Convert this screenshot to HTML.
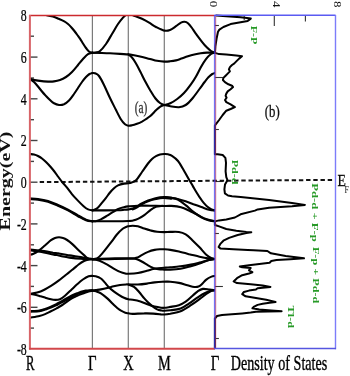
<!DOCTYPE html>
<html><head><meta charset="utf-8"><style>
html,body{margin:0;padding:0;background:#fff;}
svg{display:block;will-change:transform;}
text{font-family:"Liberation Serif",serif;}
</style></head><body>
<svg width="350" height="376" viewBox="0 0 350 376">
<defs><clipPath id="cp"><rect x="30" y="15" width="185" height="334"/></clipPath></defs>
<rect width="350" height="376" fill="#fff"/>
<!-- vertical symmetry lines -->
<g stroke="#7a7a7a" stroke-width="1.2">
<line x1="92.4" y1="15" x2="92.4" y2="349"/>
<line x1="128.3" y1="15" x2="128.3" y2="349"/>
<line x1="164.3" y1="15" x2="164.3" y2="349"/>
</g>
<!-- left ticks -->
<g stroke="#444" stroke-width="1.4">
<line x1="30" y1="328.1" x2="34.0" y2="328.1"/>
<line x1="30" y1="307.3" x2="37.5" y2="307.3"/>
<line x1="30" y1="286.4" x2="34.0" y2="286.4"/>
<line x1="30" y1="265.6" x2="37.5" y2="265.6"/>
<line x1="30" y1="244.8" x2="34.0" y2="244.8"/>
<line x1="30" y1="223.9" x2="37.5" y2="223.9"/>
<line x1="30" y1="203.1" x2="34.0" y2="203.1"/>
<line x1="30" y1="182.2" x2="37.5" y2="182.2"/>
<line x1="30" y1="161.4" x2="34.0" y2="161.4"/>
<line x1="30" y1="140.5" x2="37.5" y2="140.5"/>
<line x1="30" y1="119.7" x2="34.0" y2="119.7"/>
<line x1="30" y1="98.8" x2="37.5" y2="98.8"/>
<line x1="30" y1="78.0" x2="34.0" y2="78.0"/>
<line x1="30" y1="57.1" x2="37.5" y2="57.1"/>
<line x1="30" y1="36.2" x2="34.0" y2="36.2"/>
</g>
<!-- DOS ticks -->
<g stroke="#333" stroke-width="1.1">
<line x1="214.9" y1="25.5" x2="218.9" y2="25.5"/>
<line x1="214.9" y1="77.5" x2="222.9" y2="77.5"/>
<line x1="214.9" y1="129.5" x2="218.9" y2="129.5"/>
<line x1="214.9" y1="181.5" x2="222.9" y2="181.5"/>
<line x1="214.9" y1="233.5" x2="218.9" y2="233.5"/>
<line x1="214.9" y1="286.5" x2="222.9" y2="286.5"/>
<line x1="214.9" y1="338.5" x2="218.9" y2="338.5"/>
<line x1="274.3" y1="15" x2="274.3" y2="26"/>
<line x1="305.4" y1="15" x2="305.4" y2="21.5"/>
<line x1="244.2" y1="15" x2="244.2" y2="20"/>
</g>
<!-- fermi dashed line -->
<line x1="39.7" y1="182.1" x2="333.5" y2="179.9" stroke="#111" stroke-width="2" stroke-dasharray="4.4 2.8"/>
<!-- bands -->
<g clip-path="url(#cp)" fill="none" stroke="#000" stroke-width="2.1" stroke-linecap="round" stroke-linejoin="round">
<path d="M46.6,15.1 C47.6,15.3 50.9,16.0 52.9,16.6 C54.9,17.2 56.7,18.0 58.6,18.8 C60.5,19.6 62.7,20.5 64.3,21.4 C65.9,22.3 66.9,23.1 68.0,24.0 C69.1,24.9 70.0,25.9 71.0,27.0 C72.0,28.1 73.0,29.2 74.0,30.5 C75.0,31.8 76.0,33.1 77.0,34.5 C78.0,35.9 79.0,37.1 80.0,38.6 C81.0,40.1 82.0,41.9 83.0,43.5 C84.0,45.1 85.0,46.7 86.0,48.0 C87.0,49.3 87.9,50.7 89.0,51.5 C90.1,52.3 91.8,52.5 92.4,52.7"/>
<path d="M92.4,52.7 C93.0,52.7 94.7,52.7 96.0,52.4 C97.3,52.1 98.3,52.4 100.0,51.0 C101.7,49.6 104.0,46.8 106.0,44.0 C108.0,41.2 110.0,37.3 112.0,34.0 C114.0,30.7 116.2,26.7 118.0,24.0 C119.8,21.3 121.4,19.4 123.0,17.6 C124.6,15.9 126.3,14.3 127.5,13.5 C128.7,12.7 129.6,12.9 130.0,12.8"/>
<path d="M127.0,12.8 C128.0,13.2 130.5,14.2 133.0,15.2 C135.5,16.2 139.2,17.5 142.0,18.8 C144.8,20.1 147.7,21.8 150.0,23.2 C152.3,24.6 153.6,25.8 156.0,27.0 C158.4,28.2 162.0,30.1 164.3,30.6 C166.6,31.1 168.1,30.7 170.0,30.0 C171.9,29.3 174.2,27.4 176.0,26.2 C177.8,25.0 179.6,23.3 181.0,22.6 C182.4,21.9 183.3,21.7 184.5,21.8 C185.7,21.9 186.8,22.2 188.0,23.2 C189.2,24.2 190.7,26.2 192.0,28.0 C193.3,29.8 194.3,31.5 196.0,33.8 C197.7,36.1 200.2,39.5 202.0,41.8 C203.8,44.1 205.5,46.1 207.0,47.6 C208.5,49.1 209.7,50.1 211.0,51.0 C212.3,51.9 214.2,52.4 214.9,52.7"/>
<path d="M30.0,79.0 C31.3,79.3 35.0,80.2 38.0,80.6 C41.0,81.0 45.3,81.5 48.0,81.6 C50.7,81.7 52.0,81.7 54.0,81.4 C56.0,81.1 58.0,80.7 60.0,80.0 C62.0,79.3 64.0,78.3 66.0,77.0 C68.0,75.7 70.0,74.0 72.0,72.0 C74.0,70.0 76.2,67.2 78.0,65.0 C79.8,62.8 81.3,60.8 83.0,59.0 C84.7,57.2 86.4,55.2 88.0,54.2 C89.6,53.2 91.7,53.0 92.4,52.7"/>
<path d="M92.4,52.7 C93.7,52.7 97.1,52.8 100.0,52.9 C102.9,53.0 106.7,53.1 110.0,53.3 C113.3,53.5 117.0,53.7 120.0,53.9 C123.0,54.1 126.0,54.2 128.3,54.4 C130.6,54.6 132.1,54.9 134.0,55.2 C135.9,55.5 137.3,55.8 140.0,56.4 C142.7,57.0 147.2,58.3 150.0,59.0 C152.8,59.7 154.6,60.4 157.0,60.8 C159.4,61.2 162.1,61.5 164.3,61.6 C166.5,61.7 168.1,61.5 170.0,61.3 C171.9,61.1 174.1,60.8 176.0,60.4 C177.9,60.0 179.4,59.3 181.4,58.6 C183.4,57.9 185.8,57.0 187.9,56.3 C190.1,55.6 192.2,55.0 194.3,54.5 C196.4,54.0 198.6,53.5 200.7,53.2 C202.8,52.9 204.6,52.7 207.0,52.6 C209.4,52.5 213.6,52.7 214.9,52.7"/>
<path d="M128.3,54.4 C128.9,54.9 130.7,56.0 132.0,57.5 C133.3,59.0 134.6,61.1 136.0,63.5 C137.4,65.9 139.0,69.1 140.5,72.0 C142.0,74.9 143.4,78.0 145.0,81.0 C146.6,84.0 148.2,87.1 150.0,90.0 C151.8,92.9 153.8,96.3 155.5,98.5 C157.2,100.7 158.5,101.9 160.0,103.0 C161.5,104.1 163.6,104.7 164.3,105.0"/>
<path d="M30.0,79.0 C30.7,79.5 32.7,80.8 34.0,82.0 C35.3,83.2 36.7,84.9 38.0,86.5 C39.3,88.1 40.7,89.9 42.0,91.5 C43.3,93.1 44.7,94.6 46.0,96.0 C47.3,97.4 48.7,98.8 50.0,100.0 C51.3,101.2 52.5,102.5 54.0,103.3 C55.5,104.1 57.3,104.8 59.0,105.0 C60.7,105.2 62.3,105.0 64.0,104.3 C65.7,103.5 67.3,102.2 69.0,100.5 C70.7,98.8 72.5,96.1 74.0,94.0 C75.5,91.9 76.7,90.0 78.0,88.0 C79.3,86.0 80.7,83.8 82.0,82.0 C83.3,80.2 84.8,78.3 86.0,77.0 C87.2,75.7 88.4,74.7 89.5,74.0 C90.6,73.3 91.9,73.2 92.4,73.0"/>
<path d="M92.4,73.0 C92.8,73.0 93.9,72.8 95.0,73.3 C96.1,73.8 97.5,74.0 99.0,76.0 C100.5,78.0 102.2,81.3 104.0,85.0 C105.8,88.7 108.0,93.8 110.0,98.0 C112.0,102.2 114.2,106.4 116.0,110.0 C117.8,113.6 119.5,117.1 121.0,119.5 C122.5,121.9 123.8,123.2 125.0,124.2 C126.2,125.2 127.1,125.5 128.3,125.7 C129.5,125.9 130.6,125.6 132.0,125.3 C133.4,125.0 135.3,124.4 137.0,123.8 C138.7,123.2 139.8,122.8 142.0,121.6 C144.2,120.3 147.7,118.2 150.0,116.3 C152.3,114.4 154.3,111.9 156.0,110.3 C157.7,108.7 158.6,107.7 160.0,106.8 C161.4,105.9 163.6,105.3 164.3,105.0"/>
<path d="M164.3,105.0 C165.3,104.7 168.2,104.3 170.3,103.3 C172.5,102.3 174.9,100.7 177.2,99.0 C179.5,97.3 181.7,95.4 184.0,93.0 C186.3,90.6 188.9,87.2 190.9,84.4 C192.9,81.7 194.4,79.3 196.0,76.5 C197.6,73.7 199.1,70.4 200.7,67.5 C202.3,64.6 204.1,61.5 205.8,59.3 C207.5,57.0 209.5,55.1 211.0,54.0 C212.5,52.9 214.2,52.9 214.9,52.7"/>
<path d="M164.3,105.0 C165.3,105.2 167.9,105.8 170.3,106.2 C172.7,106.6 176.3,107.4 178.9,107.2 C181.5,107.0 183.4,106.5 185.7,105.0 C188.0,103.5 190.3,100.9 192.6,98.2 C194.9,95.5 197.5,91.7 199.5,89.0 C201.5,86.3 203.1,84.0 204.6,82.0 C206.1,80.0 207.1,78.6 208.4,77.3 C209.7,76.0 211.2,74.7 212.3,74.0 C213.4,73.3 214.5,73.2 214.9,73.0"/>
<path d="M30.0,154.0 C30.7,154.1 32.7,154.2 34.0,154.5 C35.3,154.8 36.7,155.3 38.0,156.0 C39.3,156.7 40.7,157.5 42.0,158.5 C43.3,159.5 44.7,160.7 46.0,162.0 C47.3,163.3 48.7,164.7 50.0,166.2 C51.3,167.7 52.7,169.3 54.0,171.0 C55.3,172.7 56.7,174.7 58.0,176.5 C59.3,178.3 60.6,180.1 62.0,181.8 C63.4,183.5 64.7,184.8 66.4,186.9 C68.1,189.0 70.2,192.0 72.1,194.3 C74.0,196.6 76.0,198.6 77.9,200.6 C79.8,202.6 81.9,204.7 83.6,206.2 C85.3,207.7 86.6,208.7 88.1,209.4 C89.6,210.1 91.7,210.2 92.4,210.3"/>
<path d="M92.4,210.4 C92.8,210.2 94.0,210.0 95.0,209.5 C96.0,209.0 97.1,208.3 98.3,207.2 C99.5,206.1 100.8,204.3 102.1,202.7 C103.4,201.1 104.7,199.5 106.0,197.8 C107.3,196.1 108.7,194.1 110.0,192.5 C111.3,190.9 112.7,189.5 114.0,188.3 C115.3,187.1 116.3,186.2 118.0,185.4 C119.7,184.6 122.0,184.0 124.0,183.6 C126.0,183.2 128.0,183.6 130.0,183.0 C132.0,182.4 134.0,182.1 136.0,180.3 C138.0,178.5 140.0,174.8 142.0,172.0 C144.0,169.2 146.3,165.7 148.0,163.5 C149.7,161.3 150.7,160.2 152.0,159.0 C153.3,157.8 154.7,156.9 156.0,156.2 C157.3,155.5 158.6,155.0 160.0,154.6 C161.4,154.2 163.0,154.1 164.3,154.0 C165.6,153.9 166.7,154.0 168.0,154.3 C169.3,154.6 170.3,154.7 172.0,155.8 C173.7,156.9 176.0,158.5 178.0,161.0 C180.0,163.5 182.0,167.4 184.0,170.8 C186.0,174.2 188.5,178.6 190.0,181.2 C191.5,183.8 192.0,184.7 193.0,186.4 C194.0,188.1 194.8,189.6 196.0,191.5 C197.2,193.4 198.8,196.0 200.0,197.8 C201.2,199.7 202.2,201.1 203.5,202.6 C204.8,204.1 206.2,205.7 207.5,206.8 C208.8,207.9 210.3,208.8 211.5,209.4 C212.7,210.0 214.3,210.2 214.9,210.4"/>
<path d="M30.0,198.4 C31.3,198.5 35.0,198.6 38.0,199.0 C41.0,199.4 44.7,200.0 48.0,201.0 C51.3,202.0 54.7,203.6 58.0,205.0 C61.3,206.4 64.7,207.9 68.0,209.6 C71.3,211.3 75.0,213.7 78.0,215.4 C81.0,217.1 83.6,218.6 86.0,219.6 C88.4,220.6 91.3,220.9 92.4,221.2"/>
<path d="M30.0,199.2 C31.3,199.3 35.0,199.4 38.0,199.8 C41.0,200.2 44.7,200.8 48.0,201.8 C51.3,202.8 54.7,204.4 58.0,205.8 C61.3,207.2 64.7,208.7 68.0,210.4 C71.3,212.1 75.0,214.6 78.0,216.2 C81.0,217.8 83.6,219.3 86.0,220.2 C88.4,221.1 91.3,221.2 92.4,221.4"/>
<path d="M92.4,210.4 C94.5,210.4 100.7,210.4 105.0,210.4 C109.3,210.4 114.8,210.4 118.0,210.3 C121.2,210.2 122.2,210.0 124.0,209.8 C125.8,209.7 127.5,209.6 128.9,209.4 C130.3,209.2 131.4,209.1 132.7,208.6 C134.0,208.1 135.1,207.5 136.6,206.7 C138.1,205.8 139.8,204.5 141.7,203.5 C143.6,202.5 145.9,201.3 148.1,200.5 C150.2,199.7 152.6,198.9 154.6,198.4 C156.6,197.9 158.4,197.5 160.0,197.3 C161.6,197.1 163.6,197.1 164.3,197.1"/>
<path d="M132.7,209.4 C133.3,209.1 135.1,208.3 136.6,207.5 C138.1,206.7 139.8,205.3 141.7,204.3 C143.6,203.3 145.9,202.2 148.1,201.3 C150.2,200.5 152.6,199.7 154.6,199.2 C156.6,198.7 158.4,198.3 160.0,198.1 C161.6,197.9 162.4,197.8 164.3,197.9 C166.2,198.0 170.2,198.5 171.4,198.6"/>
<path d="M92.4,221.2 C93.0,221.2 94.3,221.5 95.7,221.2 C97.1,220.9 99.0,220.3 100.9,219.4 C102.8,218.5 105.2,216.9 107.3,215.6 C109.4,214.3 111.8,212.8 113.7,211.7 C115.6,210.5 117.1,209.4 118.8,208.7 C120.5,207.9 122.4,207.6 124.0,207.2 C125.6,206.8 126.0,206.7 128.3,206.4 C130.6,206.2 134.2,205.8 137.9,205.7 C141.6,205.6 146.3,205.6 150.7,205.7 C155.1,205.8 162.0,205.9 164.3,206.0"/>
<path d="M92.4,221.2 C95.3,221.2 104.0,221.3 110.0,221.3 C116.0,221.3 124.5,221.1 128.3,221.0 C132.1,220.9 131.1,220.9 132.7,220.6 C134.3,220.2 136.0,219.8 137.9,218.9 C139.8,218.0 142.2,216.6 144.3,215.1 C146.4,213.6 148.8,211.3 150.7,209.9 C152.6,208.5 154.1,207.6 155.8,206.9 C157.5,206.2 159.6,206.2 161.0,206.0 C162.4,205.8 163.8,206.0 164.3,206.0"/>
<path d="M164.3,197.1 C165.5,197.2 169.2,197.6 171.4,197.9 C173.6,198.2 175.3,198.4 177.7,199.0 C180.1,199.6 183.0,200.4 185.6,201.3 C188.2,202.2 190.8,203.2 193.4,204.2 C196.0,205.1 198.7,206.1 201.3,207.0 C203.9,207.9 206.9,209.1 209.2,209.7 C211.5,210.3 213.9,210.3 214.9,210.4"/>
<path d="M164.3,197.1 C165.5,197.2 169.2,197.5 171.4,197.9 C173.6,198.3 175.3,198.3 177.7,199.5 C180.1,200.7 183.0,203.1 185.6,205.2 C188.2,207.2 190.8,209.8 193.4,211.8 C196.0,213.8 198.7,215.8 201.3,217.3 C203.9,218.8 206.9,219.9 209.2,220.6 C211.5,221.2 213.9,221.1 214.9,221.2"/>
<path d="M164.3,206.0 C165.5,206.0 168.6,205.7 171.4,205.9 C174.2,206.1 177.8,206.4 180.9,207.3 C184.1,208.2 187.4,209.9 190.3,211.2 C193.2,212.5 195.6,213.9 198.2,215.2 C200.8,216.5 203.2,218.1 206.0,219.1 C208.8,220.1 213.4,220.8 214.9,221.2"/>
<path d="M30.0,254.8 C30.5,254.7 32.0,254.4 33.0,254.0 C34.0,253.6 35.0,253.1 36.0,252.5 C37.0,251.9 38.0,251.2 39.0,250.5 C40.0,249.8 40.8,249.0 42.0,248.0 C43.2,247.0 44.5,245.8 46.0,244.5 C47.5,243.2 49.5,241.3 51.0,240.2 C52.5,239.1 53.7,238.5 55.0,238.0 C56.3,237.5 57.7,237.3 59.0,237.3 C60.3,237.3 61.6,237.6 63.0,238.0 C64.3,238.4 65.4,238.9 67.1,240.0 C68.8,241.1 71.0,242.9 72.9,244.6 C74.8,246.3 76.7,248.5 78.6,250.3 C80.5,252.1 82.8,254.1 84.3,255.4 C85.8,256.7 86.3,257.5 87.7,258.1 C89.1,258.7 91.6,258.9 92.4,259.0"/>
<path d="M30.0,249.6 C31.7,249.8 36.2,250.1 40.0,250.6 C43.8,251.1 50.0,252.2 53.0,252.7 C56.0,253.1 56.3,253.0 58.0,253.3 C59.7,253.6 61.1,254.0 63.0,254.3 C64.9,254.7 66.4,254.9 69.4,255.4 C72.4,255.9 77.9,256.6 80.9,257.1 C84.0,257.6 85.8,258.3 87.7,258.6 C89.6,258.9 91.6,258.9 92.4,259.0"/>
<path d="M30.0,250.2 C31.7,250.5 36.2,251.1 40.0,251.8 C43.8,252.5 50.0,253.8 53.0,254.4 C56.0,255.0 56.3,255.0 58.0,255.3 C59.7,255.7 61.1,256.1 63.0,256.5 C64.9,256.9 66.4,257.2 69.4,257.6 C72.4,258.0 77.9,258.6 80.9,258.8 C84.0,259.1 85.8,259.0 87.7,259.1 C89.6,259.2 91.6,259.2 92.4,259.2"/>
<path d="M30.0,294.0 C31.2,293.8 34.7,293.3 37.1,292.6 C39.5,291.9 41.9,290.9 44.3,289.7 C46.7,288.5 49.0,287.2 51.4,285.7 C53.8,284.2 56.2,282.5 58.6,280.7 C61.0,278.9 63.3,276.9 65.7,275.0 C68.1,273.1 70.8,271.1 72.9,269.3 C75.1,267.6 76.8,265.9 78.6,264.5 C80.4,263.1 82.4,261.8 84.0,261.0 C85.6,260.2 86.6,259.9 88.0,259.6 C89.4,259.3 91.7,259.3 92.4,259.2"/>
<path d="M30.0,294.0 C30.8,294.1 33.4,294.5 35.0,294.8 C36.6,295.1 37.7,295.4 39.4,295.9 C41.1,296.4 43.2,297.0 45.1,297.6 C47.0,298.2 49.2,298.9 50.9,299.3 C52.6,299.7 53.9,299.9 55.4,299.9 C56.9,299.9 58.4,299.9 60.0,299.2 C61.6,298.5 63.1,297.3 65.0,295.7 C66.9,294.1 69.4,291.6 71.4,289.7 C73.4,287.8 75.2,286.0 77.1,284.3 C79.0,282.6 81.0,280.8 82.9,279.5 C84.8,278.2 87.0,276.9 88.6,276.3 C90.2,275.7 91.8,275.9 92.4,275.8"/>
<path d="M30.0,311.2 C31.6,311.1 36.9,311.0 39.4,310.6 C41.9,310.2 43.2,309.6 45.1,308.9 C47.0,308.2 49.0,307.4 50.9,306.6 C52.8,305.8 54.7,304.8 56.6,303.9 C58.5,302.9 59.8,302.3 62.3,300.9 C64.8,299.5 68.9,296.9 71.4,295.6 C73.9,294.3 75.2,294.0 77.1,293.3 C79.0,292.6 81.0,291.8 82.9,291.3 C84.8,290.8 87.0,290.5 88.6,290.4 C90.2,290.2 91.8,290.4 92.4,290.4"/>
<path d="M30.0,311.6 C31.6,311.5 36.9,311.4 39.4,311.1 C41.9,310.8 43.2,310.2 45.1,309.6 C47.0,309.0 49.0,308.4 50.9,307.6 C52.8,306.9 54.7,306.0 56.6,305.1 C58.5,304.2 59.8,303.6 62.3,302.2 C64.8,300.8 68.9,298.3 71.4,297.0 C73.9,295.7 75.2,295.0 77.1,294.2 C79.0,293.4 81.0,292.7 82.9,292.2 C84.8,291.7 87.0,291.3 88.6,291.0 C90.2,290.7 91.8,290.6 92.4,290.5"/>
<path d="M30.0,317.6 C31.6,317.3 36.9,316.5 39.4,315.9 C41.9,315.3 43.2,314.9 45.1,314.1 C47.0,313.3 49.0,312.2 50.9,311.3 C52.8,310.4 54.7,309.4 56.6,308.4 C58.5,307.3 59.8,306.6 62.3,305.0 C64.8,303.4 68.9,300.2 71.4,298.7 C73.9,297.2 75.2,296.8 77.1,295.9 C79.0,295.0 81.0,294.3 82.9,293.6 C84.8,292.9 87.0,292.0 88.6,291.5 C90.2,291.0 91.8,290.8 92.4,290.6"/>
<path d="M92.4,259.0 C92.8,259.0 94.0,259.1 95.0,258.8 C96.0,258.6 97.1,258.4 98.3,257.5 C99.5,256.6 100.6,255.3 102.1,253.6 C103.6,251.9 105.6,249.4 107.3,247.2 C109.0,245.0 110.8,242.7 112.4,240.6 C114.0,238.5 115.2,236.5 116.9,234.5 C118.6,232.5 121.1,230.1 122.7,228.8 C124.3,227.5 125.7,227.1 126.6,226.7 C127.5,226.3 127.3,226.4 128.3,226.2 C129.3,226.0 131.1,225.7 132.7,225.7 C134.3,225.7 136.0,225.7 137.9,226.2 C139.8,226.7 142.2,227.9 144.3,228.6 C146.4,229.3 148.6,230.0 150.7,230.5 C152.8,231.0 154.8,231.5 157.1,231.8 C159.4,232.1 162.1,232.1 164.3,232.1 C166.5,232.1 167.9,231.9 170.3,231.9 C172.7,231.9 176.3,231.6 178.9,232.0 C181.5,232.4 183.4,233.0 185.7,234.4 C188.0,235.8 190.3,238.2 192.6,240.4 C194.9,242.6 197.2,244.9 199.5,247.3 C201.8,249.7 204.3,253.0 206.3,254.8 C208.3,256.6 210.1,257.6 211.5,258.3 C212.9,259.0 214.3,258.9 214.9,259.0"/>
<path d="M92.4,259.0 C93.7,258.9 96.2,258.8 100.0,258.7 C103.8,258.6 110.3,258.5 115.0,258.4 C119.7,258.3 125.1,258.2 128.3,258.2 C131.5,258.2 132.5,258.3 134.0,258.2 C135.5,258.1 136.2,258.1 137.5,257.6 C138.8,257.1 139.9,256.1 141.7,255.1 C143.5,254.1 145.9,252.8 148.1,251.9 C150.2,251.0 152.6,250.3 154.6,249.9 C156.6,249.5 158.4,249.4 160.0,249.3 C161.6,249.2 162.6,249.2 164.3,249.3 C166.0,249.4 167.9,249.5 170.3,249.9 C172.7,250.3 175.8,250.9 178.9,251.6 C182.1,252.3 185.8,253.3 189.2,254.2 C192.6,255.0 196.4,256.0 199.5,256.7 C202.6,257.4 205.4,258.0 208.0,258.4 C210.6,258.8 213.8,258.9 214.9,259.0"/>
<path d="M92.4,259.6 C93.7,259.6 96.2,259.4 100.0,259.3 C103.8,259.2 110.3,259.1 115.0,259.0 C119.7,258.9 125.1,258.8 128.3,258.8 C131.5,258.8 132.5,258.7 134.0,258.8 C135.5,258.9 136.2,258.9 137.5,259.4 C138.8,259.8 139.9,260.5 141.7,261.5 C143.5,262.5 146.2,264.2 148.1,265.3 C150.0,266.4 151.6,267.2 153.3,267.9 C155.0,268.5 156.6,268.9 158.4,269.2 C160.2,269.5 162.3,269.5 164.3,269.6 C166.3,269.7 167.6,269.8 170.3,269.6 C173.0,269.5 177.2,269.3 180.6,268.7 C184.0,268.1 187.8,267.0 190.9,266.2 C194.1,265.4 196.7,264.6 199.5,263.6 C202.3,262.6 205.4,261.0 208.0,260.2 C210.6,259.4 213.8,259.2 214.9,259.0"/>
<path d="M92.4,259.0 C92.8,259.1 93.8,259.1 95.0,259.4 C96.2,259.7 97.5,259.8 99.6,260.7 C101.6,261.6 104.9,263.3 107.3,264.6 C109.7,265.9 111.6,267.4 113.7,268.6 C115.8,269.8 118.2,271.1 120.1,271.9 C122.0,272.7 123.9,273.2 125.3,273.5 C126.7,273.8 126.2,273.9 128.3,273.8 C130.4,273.7 134.8,273.5 137.9,273.0 C141.0,272.5 144.3,271.5 146.9,270.8 C149.5,270.1 151.5,269.4 153.3,269.0 C155.2,268.6 156.2,268.4 158.0,268.2 C159.8,268.0 162.2,267.8 164.3,267.7 C166.4,267.6 167.6,267.6 170.3,267.3 C173.0,267.1 177.2,266.6 180.6,266.2 C184.0,265.8 187.8,265.2 190.9,264.6 C194.1,264.0 196.7,263.3 199.5,262.6 C202.3,261.9 205.4,260.8 208.0,260.2 C210.6,259.6 213.8,259.2 214.9,259.0"/>
<path d="M92.4,276.0 C93.0,276.1 94.3,275.9 95.7,276.3 C97.1,276.7 99.4,277.5 100.9,278.5 C102.4,279.5 103.4,281.0 104.7,282.4 C106.0,283.8 107.1,285.4 108.6,286.9 C110.1,288.4 112.0,290.0 113.7,291.3 C115.4,292.6 117.1,293.7 118.8,294.8 C120.5,295.9 122.4,297.1 124.0,297.8 C125.6,298.6 126.9,299.0 128.3,299.3 C129.8,299.6 130.7,299.5 132.7,299.8 C134.7,300.1 137.8,300.6 140.4,301.4 C143.0,302.2 145.7,303.7 148.1,304.6 C150.5,305.5 152.4,306.1 154.6,306.6 C156.8,307.1 159.4,307.5 161.0,307.7 C162.6,307.9 162.8,307.9 164.3,307.8 C165.9,307.7 167.9,307.3 170.3,306.9 C172.7,306.5 176.3,306.1 178.9,305.2 C181.5,304.3 183.4,303.3 185.7,301.7 C188.0,300.1 190.6,297.4 192.6,295.7 C194.6,294.0 196.0,292.4 197.7,291.3 C199.4,290.2 200.9,289.2 202.9,288.9 C204.9,288.6 207.7,289.4 209.7,289.6 C211.7,289.8 214.0,290.1 214.9,290.2"/>
<path d="M92.4,290.6 C93.0,290.5 94.3,290.3 95.7,290.1 C97.1,289.9 99.0,289.7 100.9,289.4 C102.8,289.1 105.2,288.6 107.3,288.1 C109.4,287.6 111.6,286.8 113.7,286.3 C115.8,285.8 117.9,285.3 120.1,285.0 C122.2,284.7 125.2,284.5 126.6,284.4 C128.0,284.3 126.4,284.4 128.3,284.4 C130.2,284.4 134.8,284.6 137.9,284.5 C141.0,284.4 144.1,284.0 146.9,283.6 C149.7,283.2 152.0,282.7 154.6,282.4 C157.2,282.1 160.7,281.8 162.3,281.7 C163.9,281.6 163.0,281.7 164.3,281.7 C165.6,281.7 167.9,281.5 170.3,281.7 C172.7,281.9 176.1,282.3 178.9,282.9 C181.8,283.5 184.8,284.5 187.4,285.2 C190.0,285.9 192.5,286.8 194.3,287.0 C196.2,287.2 197.2,287.1 198.5,286.6 C199.8,286.1 200.5,285.4 201.8,284.2 C203.1,283.0 204.7,280.9 206.3,279.6 C207.9,278.3 210.1,277.2 211.5,276.6 C212.9,276.0 214.3,276.1 214.9,276.0"/>
<path d="M92.4,290.6 C93.0,290.7 94.6,290.9 96.0,291.3 C97.4,291.8 99.0,292.1 100.9,293.3 C102.8,294.5 105.2,296.5 107.3,298.4 C109.4,300.3 112.0,303.1 113.7,304.8 C115.4,306.5 116.4,307.3 117.6,308.3 C118.8,309.3 119.7,310.0 121.0,310.7 C122.3,311.4 124.1,312.3 125.3,312.7 C126.5,313.1 127.1,313.1 128.3,313.3 C129.5,313.5 130.0,313.9 132.7,313.9 C135.4,313.9 140.9,313.4 144.3,313.4 C147.7,313.3 150.5,313.4 153.3,313.6 C156.1,313.8 159.2,314.2 161.0,314.4 C162.8,314.5 162.8,314.6 164.3,314.5 C165.9,314.4 167.6,314.2 170.3,313.7 C173.0,313.1 177.2,312.6 180.6,311.2 C184.0,309.8 187.8,307.2 190.9,305.2 C194.1,303.2 196.9,301.1 199.5,299.2 C202.1,297.3 204.3,295.4 206.3,294.0 C208.3,292.6 210.1,291.5 211.5,290.9 C212.9,290.3 214.3,290.4 214.9,290.3"/>
<path d="M128.3,284.6 C129.2,285.0 132.2,285.7 134.0,286.9 C135.8,288.1 137.4,290.1 139.1,292.0 C140.8,293.9 142.7,296.6 144.3,298.4 C145.9,300.2 147.2,301.6 148.5,302.8 C149.8,304.1 150.6,304.8 152.0,305.9 C153.4,307.0 155.5,308.6 157.1,309.4 C158.7,310.2 160.3,310.3 161.5,310.5 C162.7,310.7 162.8,310.7 164.3,310.7 C165.8,310.7 167.6,310.6 170.3,310.3 C173.0,310.0 177.4,309.8 180.6,308.6 C183.8,307.5 186.3,305.3 189.2,303.4 C192.0,301.5 195.1,299.1 197.7,297.4 C200.3,295.7 202.3,294.3 204.6,293.2 C206.9,292.1 209.8,291.1 211.5,290.6 C213.2,290.1 214.3,290.4 214.9,290.3"/>
</g>
<!-- DOS curve -->
<path d="M216.3,15.4 L226.3,16.3 L240.6,17.3 L247.0,18.0 L250.8,18.6 L247.7,20.9 L240.6,22.2 L230.6,24.1 L223.4,27.0 L219.4,29.6 L218.0,31.8 L216.6,38.5 L215.4,46.0 L214.9,52.9 L219.1,54.1 L226.3,54.6 L236.3,55.4 L242.0,56.3 L239.1,58.6 L236.3,61.4 L234.1,63.6 L232.0,65.0 L229.9,67.1 L228.9,69.3 L229.9,71.4 L227.7,73.6 L225.6,75.7 L223.4,77.9 L222.9,80.0 L224.9,82.1 L228.4,84.3 L232.0,85.7 L233.1,87.1 L230.6,89.3 L227.7,91.4 L226.3,93.6 L225.6,95.7 L226.6,97.7 L225.0,100.0 L226.3,102.1 L230.6,104.3 L234.9,107.1 L230.6,109.0 L226.3,110.7 L222.7,115.0 L219.1,120.0 L216.3,123.6 L214.9,125.5 L214.9,154.2 L217.7,154.3 L222.7,155.0 L225.4,157.9 L226.0,162.9 L225.6,171.4 L226.3,177.1 L227.4,180.0 L226.3,182.3 L225.0,184.5 L224.4,189.3 L224.9,193.4 L228.0,195.5 L232.0,196.3 L240.6,197.1 L254.9,198.5 L269.1,200.0 L292.0,202.9 L304.9,204.9 L292.0,206.3 L269.1,207.7 L257.7,209.4 L254.9,210.6 L240.6,214.3 L234.9,217.5 L226.3,219.4 L219.1,220.4 L214.9,221.4 L214.9,225.0 L219.1,226.4 L226.3,229.0 L236.3,230.7 L246.3,231.9 L251.3,232.2 L246.3,233.0 L237.7,235.0 L229.1,237.9 L223.4,240.7 L220.6,243.6 L218.6,247.0 L220.6,248.6 L233.4,249.3 L247.7,250.0 L253.7,250.2 L267.4,251.0 L270.9,253.3 L285.7,256.0 L304.0,258.3 L290.3,259.2 L276.5,260.1 L271.3,261.0 L269.6,262.7 L259.3,263.9 L249.0,265.3 L239.8,266.6 L242.2,267.3 L250.7,267.9 L249.0,270.4 L252.4,272.2 L249.0,273.5 L242.2,275.2 L237.0,278.2 L233.6,281.4 L237.0,283.1 L250.7,284.3 L262.7,285.5 L270.5,286.9 L262.7,287.7 L257.6,288.2 L255.9,289.6 L249.0,290.6 L243.9,292.0 L242.2,294.1 L245.6,296.3 L255.9,298.0 L266.2,299.7 L271.3,300.9 L275.6,302.0 L269.6,302.8 L262.7,303.7 L257.6,304.9 L254.2,306.6 L252.4,308.3 L259.3,309.5 L271.3,310.5 L281.6,311.2 L267.9,311.4 L255.9,311.7 L250.7,312.6 L242.2,313.4 L231.9,314.3 L222.0,315.0 L217.0,316.0 L214.9,318.5 L214.9,348.0" fill="none" stroke="#000" stroke-width="2" stroke-linejoin="round" stroke-linecap="round"/>
<!-- frames -->
<g fill="none">
<line x1="29" y1="15.5" x2="214.5" y2="15.5" stroke="#cc2a2e" stroke-width="1.5"/>
<line x1="29.9" y1="15" x2="29.9" y2="349.6" stroke="#d86468" stroke-width="2"/>
<line x1="29" y1="348.8" x2="215" y2="348.8" stroke="#d2474b" stroke-width="2"/>
<line x1="215.6" y1="15" x2="215.6" y2="349" stroke="#c0304a" stroke-opacity="0.6" stroke-width="1.2"/>
<line x1="214.5" y1="15.3" x2="335.6" y2="15.3" stroke="#5a5af2" stroke-width="1.5"/>
<line x1="214.6" y1="15" x2="214.6" y2="349" stroke="#3c3cf0" stroke-opacity="0.72" stroke-width="1.4"/>
<line x1="335.5" y1="15" x2="335.5" y2="349.2" stroke="#7c7cfa" stroke-width="1.4"/>
<line x1="214.5" y1="348.5" x2="336" y2="348.5" stroke="#5656e0" stroke-width="1.7"/>
</g>
<!-- y labels -->
<g font-size="16.5" fill="#000" stroke="#000" stroke-width="0.25">
<text x="0" y="0" transform="translate(26.8,15.6) scale(0.72,1)" text-anchor="end" dominant-baseline="central">8</text>
<text x="0" y="0" transform="translate(26.8,57.3) scale(0.72,1)" text-anchor="end" dominant-baseline="central">6</text>
<text x="0" y="0" transform="translate(26.8,99.0) scale(0.72,1)" text-anchor="end" dominant-baseline="central">4</text>
<text x="0" y="0" transform="translate(26.8,140.7) scale(0.72,1)" text-anchor="end" dominant-baseline="central">2</text>
<text x="0" y="0" transform="translate(26.8,182.4) scale(0.72,1)" text-anchor="end" dominant-baseline="central">0</text>
<text x="0" y="0" transform="translate(26.8,224.1) scale(0.72,1)" text-anchor="end" dominant-baseline="central">-2</text>
<text x="0" y="0" transform="translate(26.8,265.8) scale(0.72,1)" text-anchor="end" dominant-baseline="central">-4</text>
<text x="0" y="0" transform="translate(26.8,307.5) scale(0.72,1)" text-anchor="end" dominant-baseline="central">-6</text>
<text x="0" y="0" transform="translate(26.8,349.2) scale(0.72,1)" text-anchor="end" dominant-baseline="central">-8</text>
</g>
<!-- Energy label -->
<text transform="translate(10.2,181) scale(0.68,1) rotate(-90)" text-anchor="middle" font-size="20" font-weight="bold" fill="#111">Energy(eV)</text>
<!-- k labels -->
<g font-size="20.5" fill="#000" stroke="#000" stroke-width="0.35" text-anchor="middle">
<text transform="translate(30.3,369.5) scale(0.62,1)">R</text>
<text transform="translate(92.2,369.5) scale(0.72,1)">&#915;</text>
<text transform="translate(128.4,369.5) scale(0.7,1)">X</text>
<text transform="translate(164.3,369.5) scale(0.7,1)">M</text>
<text transform="translate(214.9,369.5) scale(0.72,1)">&#915;</text>
<text transform="translate(279,369.6) scale(0.69,1)">Density of States</text>
</g>
<text transform="translate(141,113.2) scale(0.68,1)" text-anchor="middle" font-size="16.8" fill="#333" stroke="#333" stroke-width="0.3">(a)</text>
<text transform="translate(272.3,116.5) scale(0.8,1)" text-anchor="middle" font-size="16" fill="#111" stroke="#111" stroke-width="0.3">(b)</text>
<text transform="translate(341.7,186.4) scale(0.78,1)" text-anchor="middle" font-size="17.6" fill="#000" stroke="#000" stroke-width="0.25">E</text>
<text transform="translate(346.8,193.4) scale(0.8,1)" text-anchor="middle" font-size="10" fill="#111">F</text>
<!-- DOS top labels -->
<g font-size="13" fill="#111" text-anchor="middle">
<text transform="translate(210.3,4) scale(0.75,1) rotate(90)">0</text>
<text transform="translate(273.3,4.3) scale(0.75,1) rotate(90)">4</text>
<text transform="translate(333.6,4.3) scale(0.75,1) rotate(90)">8</text>
</g>
<!-- green labels -->
<g font-weight="bold" fill="#279a27" text-anchor="middle">
<text font-size="12" transform="translate(251,35) scale(0.72,1) rotate(90)">F-P</text>
<text font-size="12" transform="translate(231.9,172) scale(0.68,1) rotate(90)">Pd-d</text>
<text font-size="12.7" transform="translate(312.3,212.5) scale(0.66,1) rotate(90)">Pd-d + F-p</text>
<text font-size="12.2" transform="translate(313.2,275.1) scale(0.66,1) rotate(90)">F-p + Pd-d</text>
<text font-size="12.2" transform="translate(288.4,316.8) scale(0.68,1) rotate(90)">Tl-d</text>
</g>
</svg>
</body></html>
